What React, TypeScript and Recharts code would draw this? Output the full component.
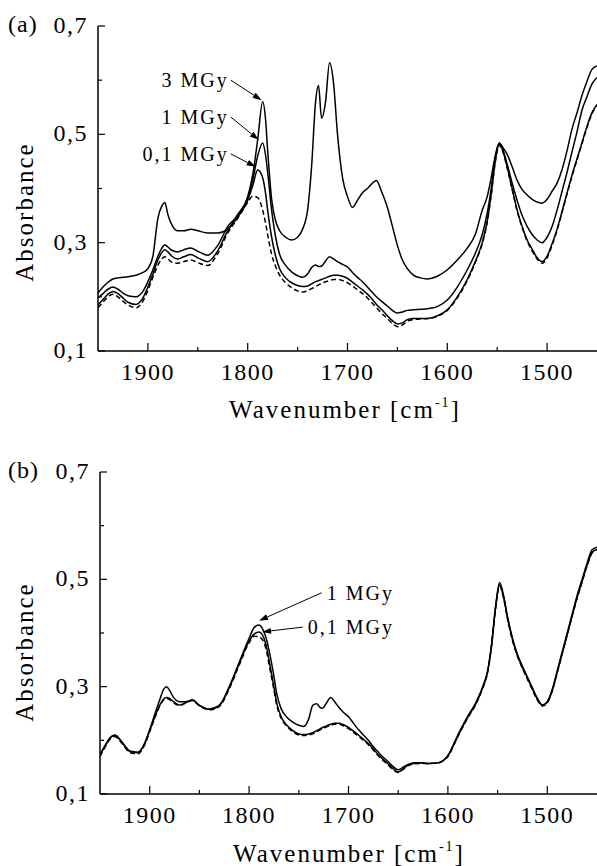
import { LineChart, Line, XAxis, YAxis, ReferenceLine } from "recharts";

const SERIF = "Liberation Serif, Times New Roman, serif";

// shared wavenumber grid (cm-1), high -> low
const WAVENUMBER = [
  1950, 1945, 1940, 1935, 1930, 1925, 1920, 1912, 1905, 1900,
  1895, 1890, 1886, 1883, 1880, 1876, 1870, 1864, 1857, 1850,
  1840, 1830, 1820, 1810, 1800, 1795, 1790, 1785, 1782, 1780,
  1776, 1772, 1768, 1762, 1756, 1750, 1745, 1740, 1736, 1732,
  1729, 1726, 1722, 1718, 1714, 1710, 1705, 1700, 1695, 1690,
  1685, 1680, 1675, 1671, 1666, 1660, 1655, 1650, 1645, 1640,
  1634, 1627, 1620, 1610, 1600, 1590, 1580, 1572, 1565, 1560,
  1556, 1552, 1548, 1544, 1540, 1535, 1530, 1525, 1520, 1515,
  1510, 1505, 1500, 1495, 1490, 1485, 1480, 1475, 1470, 1465,
  1460, 1455, 1450,
];

// panel (a)
const A_CONTROL = [
  0.180, 0.190, 0.200, 0.205, 0.200, 0.192, 0.185, 0.180, 0.192, 0.212,
  0.236, 0.258, 0.270, 0.274, 0.270, 0.264, 0.262, 0.265, 0.268, 0.263,
  0.258, 0.280, 0.318, 0.345, 0.374, 0.386, 0.383, 0.360, 0.335, 0.315,
  0.278, 0.256, 0.240, 0.226, 0.217, 0.211, 0.209, 0.211, 0.215, 0.219,
  0.222, 0.225, 0.228, 0.230, 0.232, 0.232, 0.230, 0.226, 0.220, 0.213,
  0.206, 0.198, 0.188, 0.180, 0.170, 0.160, 0.151, 0.145, 0.148, 0.155,
  0.158, 0.159, 0.160, 0.164, 0.175, 0.198, 0.230, 0.263, 0.298, 0.338,
  0.388, 0.448, 0.480, 0.466, 0.438, 0.398, 0.358, 0.328, 0.303, 0.285,
  0.270, 0.262, 0.272, 0.295, 0.323, 0.356, 0.390, 0.423, 0.453, 0.483,
  0.513, 0.538, 0.553,
];
const A_01MGY = [
  0.185, 0.195, 0.205, 0.210, 0.206, 0.198, 0.190, 0.186, 0.198, 0.218,
  0.242, 0.268, 0.282, 0.287, 0.283, 0.275, 0.270, 0.274, 0.278, 0.272,
  0.265, 0.285, 0.322, 0.347, 0.378, 0.405, 0.434, 0.420, 0.390, 0.360,
  0.310, 0.275, 0.252, 0.235, 0.226, 0.221, 0.219, 0.220, 0.224, 0.228,
  0.230, 0.232, 0.235, 0.238, 0.240, 0.240, 0.238, 0.234, 0.227, 0.220,
  0.213, 0.205, 0.195, 0.186, 0.177, 0.165, 0.156, 0.150, 0.152, 0.158,
  0.160, 0.160, 0.160, 0.165, 0.176, 0.200, 0.232, 0.265, 0.300, 0.340,
  0.390, 0.450, 0.482, 0.468, 0.440, 0.400, 0.360, 0.330, 0.305, 0.288,
  0.272, 0.265, 0.275, 0.298, 0.325, 0.358, 0.392, 0.425, 0.455, 0.485,
  0.515, 0.540, 0.555,
];
const A_1MGY = [
  0.198, 0.206, 0.214, 0.218, 0.214, 0.207, 0.202, 0.200, 0.210, 0.228,
  0.250, 0.275, 0.290, 0.296, 0.292, 0.286, 0.283, 0.287, 0.290, 0.284,
  0.277, 0.295, 0.330, 0.350, 0.382, 0.415, 0.460, 0.484, 0.460, 0.430,
  0.360, 0.310, 0.278, 0.258, 0.246, 0.239, 0.236, 0.242, 0.254, 0.259,
  0.256, 0.257, 0.266, 0.274, 0.270, 0.265, 0.260, 0.255, 0.245, 0.236,
  0.228, 0.218, 0.208, 0.200, 0.192, 0.183, 0.175, 0.170, 0.172, 0.175,
  0.176, 0.177, 0.178, 0.182, 0.194, 0.218, 0.250, 0.280, 0.315, 0.355,
  0.400, 0.455, 0.484, 0.470, 0.445, 0.410, 0.378, 0.350, 0.330, 0.315,
  0.305, 0.300, 0.310, 0.330, 0.360, 0.395, 0.430, 0.468, 0.505, 0.545,
  0.570, 0.593, 0.605,
];
const A_3MGY = [
  0.207, 0.218, 0.227, 0.233, 0.235, 0.236, 0.237, 0.240, 0.245, 0.252,
  0.275, 0.345, 0.368, 0.374, 0.352, 0.333, 0.322, 0.322, 0.325, 0.322,
  0.318, 0.318, 0.325, 0.352, 0.385, 0.425, 0.490, 0.560, 0.525, 0.470,
  0.380, 0.340, 0.322, 0.310, 0.305, 0.310, 0.325, 0.360, 0.440, 0.560,
  0.590, 0.530, 0.560, 0.632, 0.595, 0.500, 0.420, 0.385, 0.365, 0.378,
  0.392, 0.400, 0.410, 0.415, 0.395, 0.365, 0.330, 0.295, 0.268, 0.252,
  0.240, 0.235, 0.233, 0.238, 0.250, 0.268, 0.290, 0.315, 0.360, 0.385,
  0.420, 0.460, 0.484, 0.475, 0.463, 0.440, 0.415, 0.398, 0.388, 0.380,
  0.375, 0.373, 0.380, 0.395, 0.410, 0.435, 0.470, 0.510, 0.540, 0.572,
  0.598, 0.620, 0.626,
];

// panel (b)
const B_CONTROL = [
  0.170, 0.187, 0.202, 0.207, 0.199, 0.187, 0.177, 0.175, 0.192, 0.216,
  0.241, 0.263, 0.275, 0.278, 0.276, 0.270, 0.265, 0.269, 0.274, 0.264,
  0.257, 0.263, 0.296, 0.340, 0.382, 0.394, 0.393, 0.382, 0.362, 0.342,
  0.304, 0.264, 0.242, 0.226, 0.216, 0.210, 0.209, 0.210, 0.212, 0.216,
  0.219, 0.222, 0.225, 0.228, 0.230, 0.230, 0.227, 0.222, 0.215, 0.208,
  0.200, 0.192, 0.182, 0.173, 0.164, 0.154, 0.145, 0.140, 0.146, 0.153,
  0.156, 0.157, 0.157, 0.158, 0.170, 0.207, 0.242, 0.267, 0.297, 0.327,
  0.377, 0.446, 0.488, 0.465, 0.426, 0.386, 0.356, 0.334, 0.314, 0.294,
  0.275, 0.264, 0.270, 0.292, 0.326, 0.361, 0.396, 0.431, 0.465, 0.495,
  0.525, 0.549, 0.555,
];
const B_01MGY = [
  0.172, 0.189, 0.204, 0.209, 0.201, 0.189, 0.179, 0.177, 0.194, 0.218,
  0.243, 0.265, 0.277, 0.280, 0.278, 0.272, 0.266, 0.270, 0.275, 0.265,
  0.258, 0.265, 0.298, 0.343, 0.385, 0.398, 0.402, 0.390, 0.370, 0.350,
  0.310, 0.268, 0.245, 0.228, 0.218, 0.212, 0.211, 0.212, 0.214, 0.218,
  0.221, 0.224, 0.227, 0.230, 0.232, 0.232, 0.229, 0.224, 0.217, 0.210,
  0.202, 0.194, 0.184, 0.175, 0.166, 0.156, 0.147, 0.141, 0.147, 0.154,
  0.157, 0.158, 0.157, 0.158, 0.171, 0.208, 0.243, 0.268, 0.298, 0.328,
  0.378, 0.448, 0.490, 0.467, 0.428, 0.388, 0.358, 0.336, 0.316, 0.296,
  0.277, 0.266, 0.271, 0.293, 0.327, 0.362, 0.397, 0.432, 0.466, 0.496,
  0.526, 0.550, 0.556,
];
const B_1MGY = [
  0.173, 0.190, 0.205, 0.210, 0.202, 0.190, 0.180, 0.178, 0.195, 0.220,
  0.248, 0.275, 0.295, 0.300, 0.293, 0.280, 0.272, 0.272, 0.275, 0.265,
  0.258, 0.265, 0.300, 0.345, 0.390, 0.410, 0.415, 0.402, 0.385, 0.368,
  0.330, 0.285, 0.260, 0.243, 0.234, 0.228, 0.226, 0.240, 0.265, 0.268,
  0.262, 0.260, 0.270, 0.280, 0.272, 0.262, 0.252, 0.244, 0.232, 0.220,
  0.210, 0.200, 0.188, 0.180, 0.170, 0.160, 0.151, 0.145, 0.150, 0.155,
  0.158, 0.158, 0.157, 0.158, 0.172, 0.210, 0.245, 0.270, 0.300, 0.330,
  0.380, 0.450, 0.494, 0.470, 0.430, 0.390, 0.360, 0.338, 0.318, 0.298,
  0.278, 0.265, 0.272, 0.295, 0.330, 0.365, 0.400, 0.435, 0.470, 0.500,
  0.530, 0.555, 0.560,
];

const X_TICKS = [1900, 1850, 1800, 1750, 1700, 1650, 1600, 1550, 1500];
const Y_TICKS = [0.1, 0.2, 0.3, 0.4, 0.5, 0.6, 0.7];

const rowsA = WAVENUMBER.map((wn, i) => ({
  wn,
  ctrl: A_CONTROL[i],
  d01: A_01MGY[i],
  d1: A_1MGY[i],
  d3: A_3MGY[i],
}));
const rowsB = WAVENUMBER.map((wn, i) => ({
  wn,
  ctrl: B_CONTROL[i],
  d01: B_01MGY[i],
  d1: B_1MGY[i],
}));

const textStyle = (size: number, spacing: number) => ({
  fontFamily: SERIF,
  fontSize: size,
  letterSpacing: spacing,
});

function XTick(props: any) {
  const { x, y, payload } = props;
  const v = payload.value;
  const major = v % 100 === 0;
  return (
    <g>
      <line x1={x} x2={x} y1={y} y2={y - (major ? 8 : 4)} stroke="#000" strokeWidth={1.2} />
      {major && (
        <text x={x} y={y + 29} textAnchor="middle" style={textStyle(24, 1.5)} fill="#000">
          {v}
        </text>
      )}
    </g>
  );
}

function YTick(props: any) {
  const { x, y, payload } = props;
  const v = payload.value;
  const major = Math.round(v * 10) % 2 === 1;
  return (
    <g>
      <line x1={x} x2={x + (major ? 7 : 4)} y1={y} y2={y} stroke="#000" strokeWidth={1.2} />
      {major && (
        <text x={x - 10} y={y + 7} textAnchor="end" style={textStyle(24, 1.5)} fill="#000">
          {v.toFixed(1).replace(".", ",")}
        </text>
      )}
    </g>
  );
}

// leader line with arrow head, label sits at the start of the segment
function arrow(label: string, side: "left" | "right") {
  return (p: any) => {
    const { x1, y1, x2, y2 } = p;
    const dx = x2 - x1;
    const dy = y2 - y1;
    const len = Math.hypot(dx, dy) || 1;
    const ux = dx / len;
    const uy = dy / len;
    const bx = x2 - ux * 9;
    const by = y2 - uy * 9;
    const head = `${x2},${y2} ${bx - uy * 3},${by + ux * 3} ${bx + uy * 3},${by - ux * 3}`;
    return (
      <g>
        <line x1={x1} y1={y1} x2={bx} y2={by} stroke="#000" strokeWidth={1} />
        <polygon points={head} fill="#000" />
        <text
          x={side === "left" ? x1 - 2 : x1 + 5}
          y={y1 + 7}
          textAnchor={side === "left" ? "end" : "start"}
          style={textStyle(20, 2)}
          fill="#000"
        >
          {label}
        </text>
      </g>
    );
  };
}

const axisLine = { stroke: "#000", strokeWidth: 1.5 };

export default function App() {
  const lineProps = {
    type: "monotone" as const,
    stroke: "#000",
    strokeWidth: 1.5,
    dot: false,
    activeDot: false,
    isAnimationActive: false,
  };

  return (
    <div style={{ position: "absolute", left: 0, top: 0, width: 597, height: 866, background: "#fff" }}>
      <div style={{ position: "absolute", left: 0, top: 0 }}>
        <LineChart width={597} height={400} data={rowsA} margin={{ top: 26, right: 0, bottom: 0, left: 0 }}>
          <XAxis
            dataKey="wn"
            type="number"
            domain={[1450, 1950]}
            reversed
            ticks={X_TICKS}
            interval={0}
            tick={XTick}
            tickLine={false}
            tickSize={0}
            tickMargin={0}
            axisLine={axisLine}
            height={49}
            allowDataOverflow
          />
          <YAxis
            type="number"
            domain={[0.1, 0.7]}
            ticks={Y_TICKS}
            interval={0}
            tick={YTick}
            tickLine={false}
            tickSize={0}
            tickMargin={0}
            axisLine={axisLine}
            width={98}
            allowDataOverflow
          />
          <Line dataKey="ctrl" {...lineProps} strokeDasharray="5 3" />
          <Line dataKey="d01" {...lineProps} />
          <Line dataKey="d1" {...lineProps} />
          <Line dataKey="d3" {...lineProps} />
          <ReferenceLine segment={[{ x: 1817, y: 0.6 }, { x: 1786, y: 0.563 }]} ifOverflow="visible" shape={arrow("3 MGy", "left")} />
          <ReferenceLine segment={[{ x: 1817, y: 0.532 }, { x: 1789, y: 0.49 }]} ifOverflow="visible" shape={arrow("1 MGy", "left")} />
          <ReferenceLine segment={[{ x: 1817, y: 0.464 }, { x: 1792, y: 0.44 }]} ifOverflow="visible" shape={arrow("0,1 MGy", "left")} />
        </LineChart>
      </div>

      <div style={{ position: "absolute", left: 0, top: 446 }}>
        <LineChart width={597} height={420} data={rowsB} margin={{ top: 26, right: 0, bottom: 0, left: 0 }}>
          <XAxis
            dataKey="wn"
            type="number"
            domain={[1450, 1950]}
            reversed
            ticks={X_TICKS}
            interval={0}
            tick={XTick}
            tickLine={false}
            tickSize={0}
            tickMargin={0}
            axisLine={axisLine}
            height={72}
            allowDataOverflow
          />
          <YAxis
            type="number"
            domain={[0.1, 0.7]}
            ticks={Y_TICKS}
            interval={0}
            tick={YTick}
            tickLine={false}
            tickSize={0}
            tickMargin={0}
            axisLine={axisLine}
            width={100}
            allowDataOverflow
          />
          <Line dataKey="ctrl" {...lineProps} strokeDasharray="5 3" />
          <Line dataKey="d01" {...lineProps} />
          <Line dataKey="d1" {...lineProps} />
          <ReferenceLine segment={[{ x: 1727, y: 0.475 }, { x: 1790, y: 0.423 }]} ifOverflow="visible" shape={arrow("1 MGy", "right")} />
          <ReferenceLine segment={[{ x: 1746, y: 0.411 }, { x: 1787, y: 0.402 }]} ifOverflow="visible" shape={arrow("0,1 MGy", "right")} />
        </LineChart>
      </div>

      <svg width={597} height={866} style={{ position: "absolute", left: 0, top: 0, pointerEvents: "none" }}>
        <g fill="#000">
          <text x={8} y={32} style={textStyle(24, 1)}>(a)</text>
          <text x={8} y={478} style={textStyle(24, 1)}>(b)</text>
          <text transform="translate(33,212) rotate(-90)" textAnchor="middle" style={textStyle(25, 2)}>
            Absorbance
          </text>
          <text transform="translate(33,652) rotate(-90)" textAnchor="middle" style={textStyle(25, 2)}>
            Absorbance
          </text>
          <text x={345} y={418} textAnchor="middle" style={textStyle(25, 2)}>
            Wavenumber [cm<tspan style={{ fontSize: 14 }} dy={-11}>-1</tspan><tspan dy={11}>]</tspan>
          </text>
          <text x={349} y={862} textAnchor="middle" style={textStyle(25, 2)}>
            Wavenumber [cm<tspan style={{ fontSize: 14 }} dy={-11}>-1</tspan><tspan dy={11}>]</tspan>
          </text>
        </g>
      </svg>
    </div>
  );
}
